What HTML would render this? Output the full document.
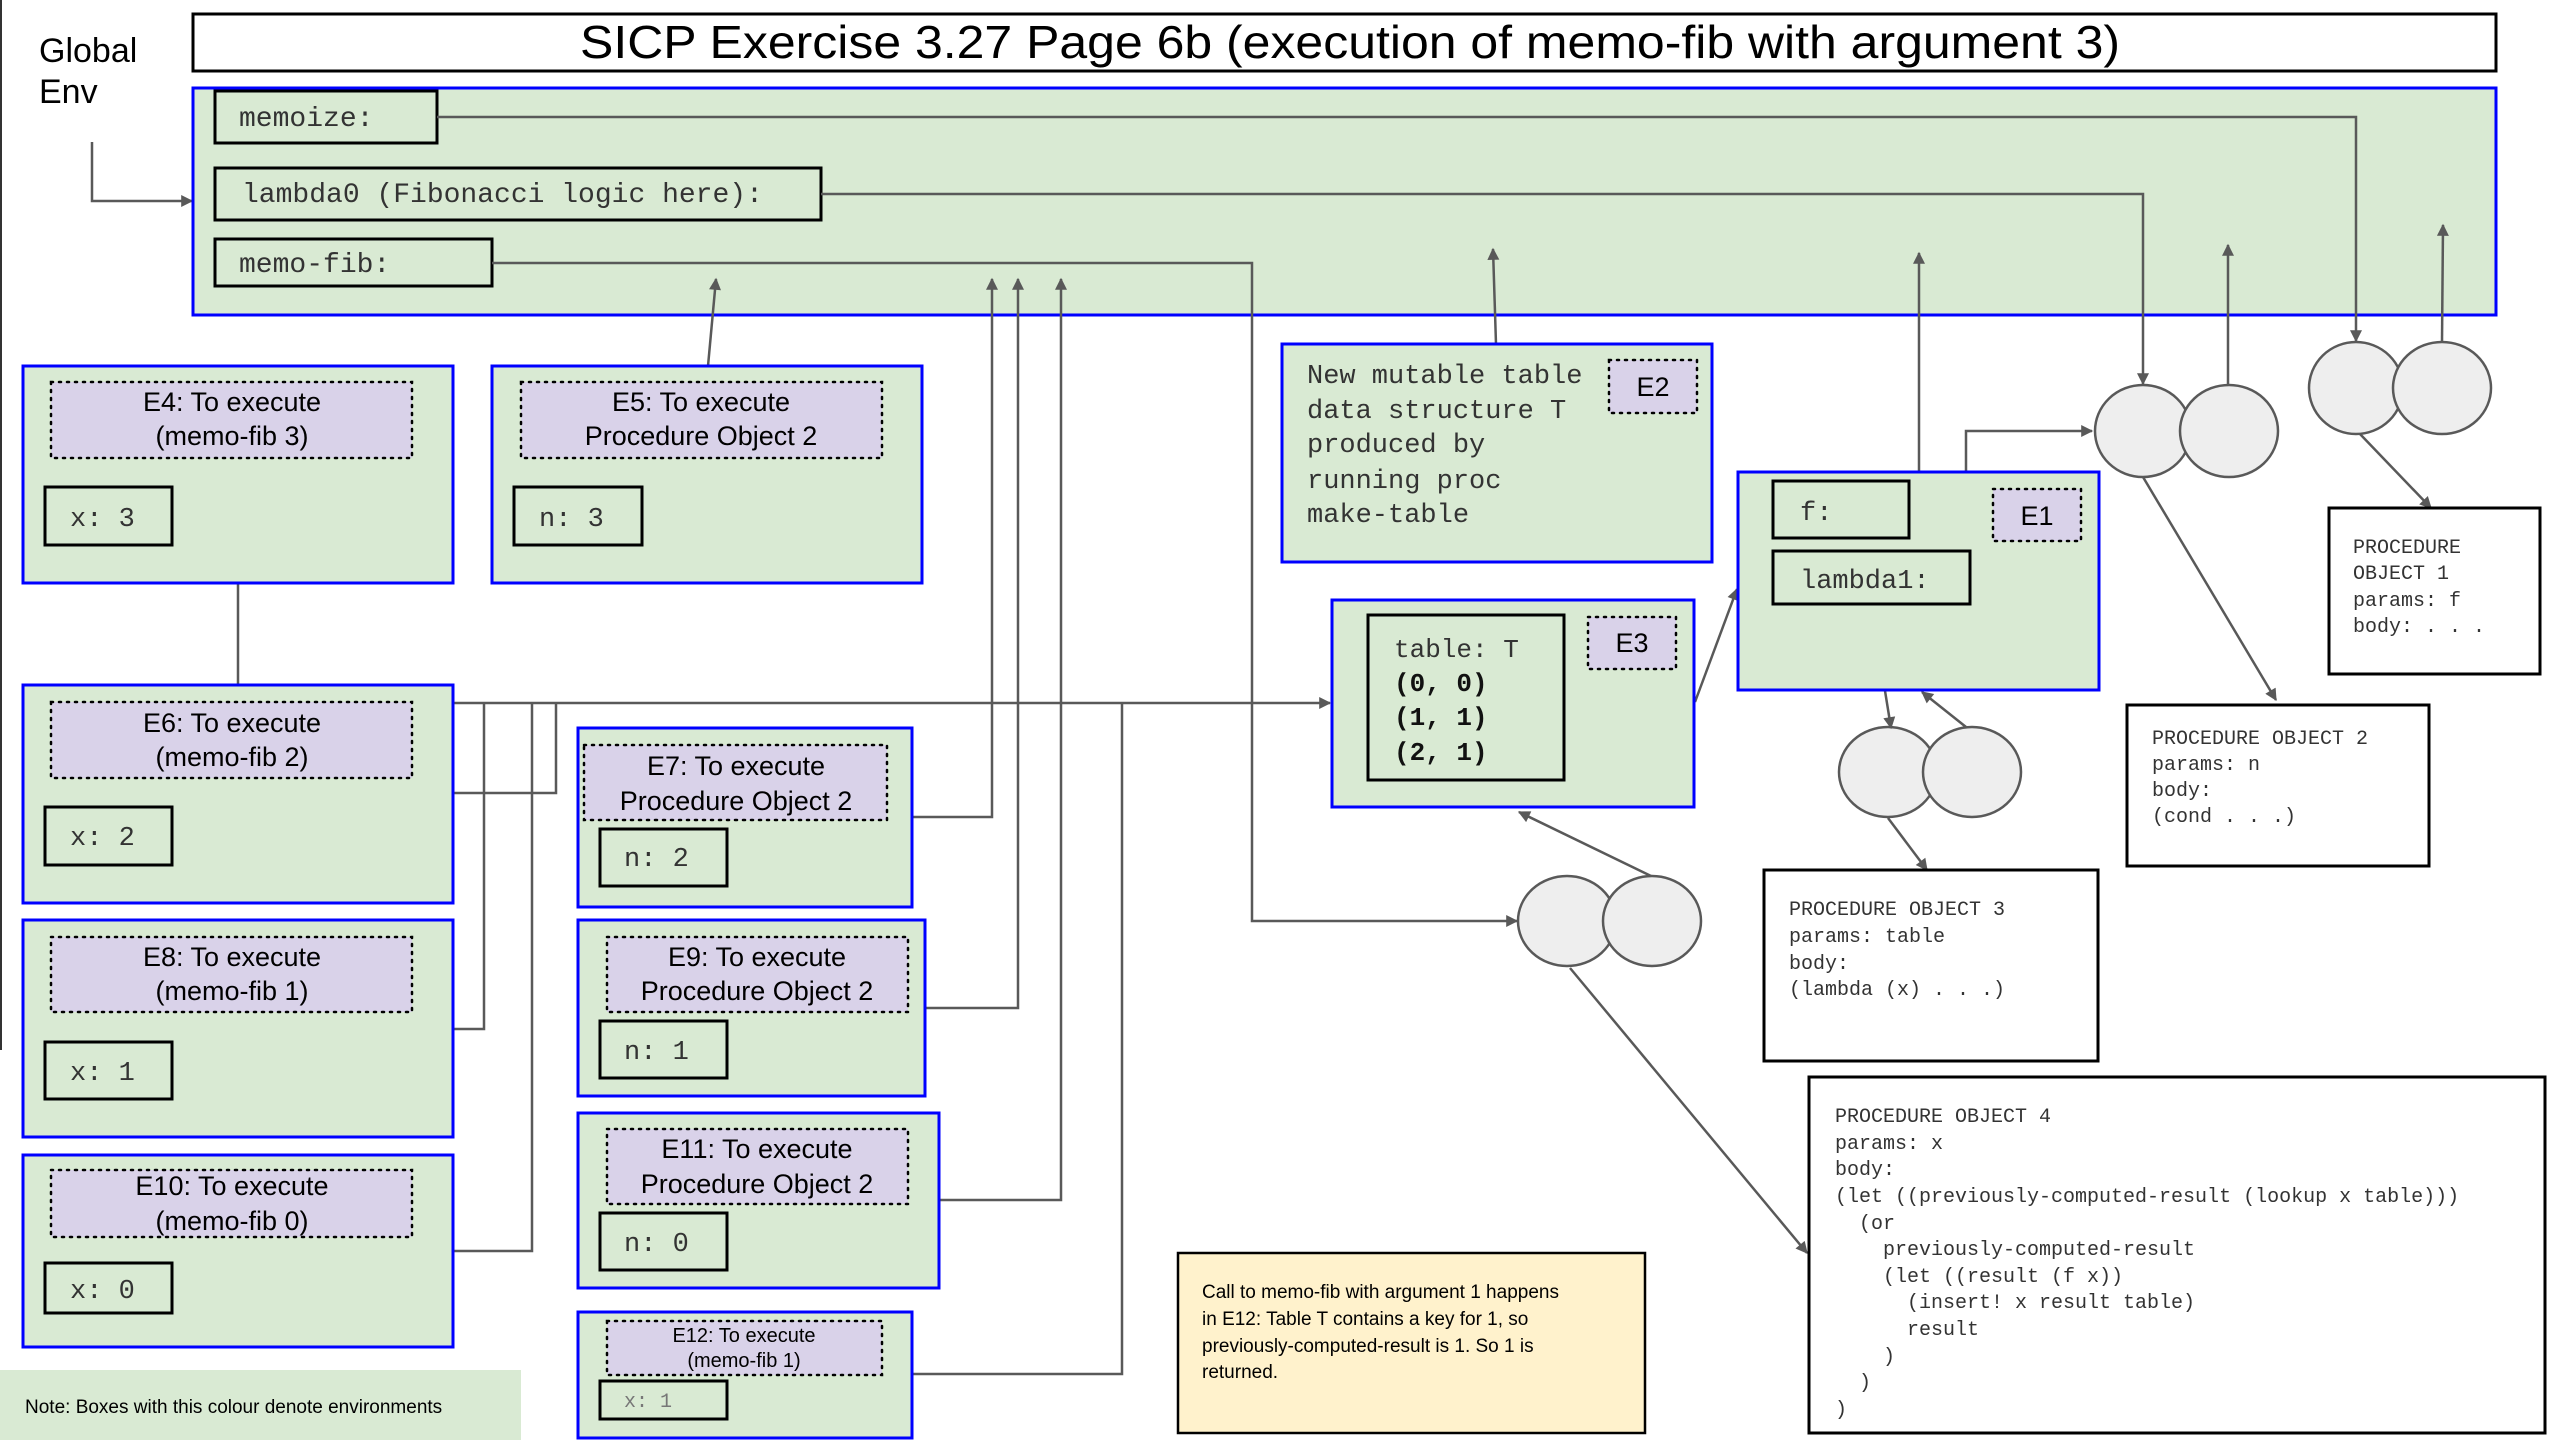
<!DOCTYPE html>
<html><head><meta charset="utf-8"><style>
html,body{margin:0;padding:0;background:#fff;}
svg{display:block;}
.mono{font-family:"Liberation Mono",monospace;fill:#333;}
.sans{font-family:"Liberation Sans",sans-serif;fill:#000;}
.env{fill:#d9ead3;stroke:#0000ff;stroke-width:3;}
.lab{fill:#d9d2e9;stroke:#000;stroke-width:2.5;stroke-dasharray:2 6;stroke-linecap:round;}
.var{fill:none;stroke:#000;stroke-width:3;}
.po{fill:#fff;stroke:#000;stroke-width:3;}
.ln{fill:none;stroke:#595959;stroke-width:2.5;}
.cir{fill:#eeeeee;stroke:#595959;stroke-width:2.5;}
</style></head><body>
<svg width="2561" height="1440" viewBox="0 0 2561 1440" xmlns="http://www.w3.org/2000/svg">
<defs>
<marker id="a" viewBox="0 0 10 10" refX="9" refY="5" markerWidth="14" markerHeight="12" markerUnits="userSpaceOnUse" orient="auto">
<path d="M0,0 L10,5 L0,10 z" fill="#595959"/></marker>
</defs>
<style>.ar{marker-end:url(#a);}</style>
<line x1="1" y1="0" x2="1" y2="1050" stroke="#333" stroke-width="2"/>

<!-- title -->
<rect x="193" y="14" width="2303" height="57" fill="#fff" stroke="#000" stroke-width="3"/>
<text x="580" y="58" class="sans" font-size="46" textLength="1540" lengthAdjust="spacingAndGlyphs">SICP Exercise 3.27 Page 6b (execution of memo-fib with argument 3)</text>
<text x="39" y="62" class="sans" font-size="34">Global</text>
<text x="39" y="103" class="sans" font-size="34">Env</text>
<path class="ln ar" d="M92,142 V201 H192"/>

<!-- global env -->
<rect class="env" x="193" y="88" width="2303" height="227"/>
<rect class="var" x="215" y="91" width="222" height="52"/>
<text class="mono" x="239" y="126" font-size="28">memoize:</text>
<rect class="var" x="215" y="168" width="606" height="52"/>
<text class="mono" x="242" y="202" font-size="28">lambda0 (Fibonacci logic here):</text>
<rect class="var" x="215" y="239" width="277" height="47"/>
<text class="mono" x="239" y="272" font-size="28">memo-fib:</text>

<!-- circles -->
<ellipse class="cir" cx="2356" cy="388" rx="47" ry="46"/>
<ellipse class="cir" cx="2442" cy="388" rx="49" ry="46"/>
<ellipse class="cir" cx="2143" cy="431" rx="48" ry="46"/>
<ellipse class="cir" cx="2229" cy="431" rx="49" ry="46"/>
<ellipse class="cir" cx="1888" cy="772" rx="49" ry="45"/>
<ellipse class="cir" cx="1972" cy="772" rx="49" ry="45"/>
<ellipse class="cir" cx="1567" cy="921" rx="49" ry="45"/>
<ellipse class="cir" cx="1652" cy="921" rx="49" ry="45"/>

<!-- global env connectors -->
<path class="ln ar" d="M437,117 H2356 V341"/>
<path class="ln ar" d="M821,194 H2143 V384"/>
<path class="ln ar" d="M492,263 H1252 V921 H1517"/>
<path class="ln ar" d="M2228,385 V245"/>
<path class="ln ar" d="M2442,342 L2443,225"/>
<path class="ln ar" d="M2360,434 L2431,508"/>
<path class="ln ar" d="M2143,477 L2276,700"/>
<path class="ln ar" d="M1909,510 H1966 V431 H2092"/>
<path class="ln ar" d="M1919,472 V253"/>
<path class="ln ar" d="M1496,344 L1493,249"/>
<path class="ln ar" d="M708,366 L716,279"/>
<path class="ln ar" d="M1871,604 L1891,728"/>
<path class="ln ar" d="M1966,727 L1922,692"/>
<path class="ln ar" d="M1888,818 L1927,870"/>
<path class="ln ar" d="M1695,702 L1737,589"/>
<path class="ln ar" d="M1651,876 L1519,812"/>
<path class="ln ar" d="M1570,968 L1807,1253"/>

<!-- E boxes connectors -->
<path class="ln ar" d="M453,703 H1330"/>
<path class="ln" d="M453,793 H556 V703"/>
<path class="ln" d="M453,1029 H484 V703"/>
<path class="ln" d="M453,1251 H532 V703"/>
<path class="ln" d="M912,1374 H1122 V703"/>
<path class="ln ar" d="M912,817 H992 V279"/>
<path class="ln ar" d="M925,1008 H1018 V279"/>
<path class="ln ar" d="M939,1200 H1061 V279"/>
<path class="ln" d="M238,583 V685"/>

<!-- E4 -->
<rect class="env" x="23" y="366" width="430" height="217"/>
<rect class="lab" x="51" y="382" width="361" height="76"/>
<text class="sans" x="232" y="411" font-size="27" text-anchor="middle">E4: To execute</text>
<text class="sans" x="232" y="445" font-size="27" text-anchor="middle">(memo-fib 3)</text>
<rect class="var" x="45" y="487" width="127" height="58"/>
<text class="mono" x="70" y="526" font-size="27">x: 3</text>
<!-- E5 -->
<rect class="env" x="492" y="366" width="430" height="217"/>
<rect class="lab" x="521" y="382" width="361" height="76"/>
<text class="sans" x="701" y="411" font-size="27" text-anchor="middle">E5: To execute</text>
<text class="sans" x="701" y="445" font-size="27" text-anchor="middle">Procedure Object 2</text>
<rect class="var" x="514" y="487" width="128" height="58"/>
<text class="mono" x="539" y="526" font-size="27">n: 3</text>
<!-- E6 -->
<rect class="env" x="23" y="685" width="430" height="218"/>
<rect class="lab" x="51" y="702" width="361" height="76"/>
<text class="sans" x="232" y="732" font-size="27" text-anchor="middle">E6: To execute</text>
<text class="sans" x="232" y="766" font-size="27" text-anchor="middle">(memo-fib 2)</text>
<rect class="var" x="45" y="807" width="127" height="58"/>
<text class="mono" x="70" y="845" font-size="27">x: 2</text>
<!-- E8 -->
<rect class="env" x="23" y="920" width="430" height="217"/>
<rect class="lab" x="51" y="937" width="361" height="75"/>
<text class="sans" x="232" y="966" font-size="27" text-anchor="middle">E8: To execute</text>
<text class="sans" x="232" y="1000" font-size="27" text-anchor="middle">(memo-fib 1)</text>
<rect class="var" x="45" y="1042" width="127" height="57"/>
<text class="mono" x="70" y="1080" font-size="27">x: 1</text>
<!-- E10 -->
<rect class="env" x="23" y="1155" width="430" height="192"/>
<rect class="lab" x="51" y="1170" width="361" height="67"/>
<text class="sans" x="232" y="1195" font-size="27" text-anchor="middle">E10: To execute</text>
<text class="sans" x="232" y="1230" font-size="27" text-anchor="middle">(memo-fib 0)</text>
<rect class="var" x="45" y="1263" width="127" height="50"/>
<text class="mono" x="70" y="1298" font-size="27">x: 0</text>
<!-- note -->
<rect x="0" y="1370" width="521" height="70" fill="#d9ead3"/>
<text class="sans" x="25" y="1413" font-size="19" fill="#222">Note: Boxes with this colour denote environments</text>

<!-- E7 -->
<rect class="env" x="578" y="728" width="334" height="179"/>
<rect class="lab" x="584" y="745" width="303" height="75"/>
<text class="sans" x="736" y="775" font-size="27" text-anchor="middle">E7: To execute</text>
<text class="sans" x="736" y="810" font-size="27" text-anchor="middle">Procedure Object 2</text>
<rect class="var" x="600" y="829" width="127" height="57"/>
<text class="mono" x="624" y="866" font-size="27">n: 2</text>
<!-- E9 -->
<rect class="env" x="578" y="920" width="347" height="176"/>
<rect class="lab" x="607" y="937" width="301" height="75"/>
<text class="sans" x="757" y="966" font-size="27" text-anchor="middle">E9: To execute</text>
<text class="sans" x="757" y="1000" font-size="27" text-anchor="middle">Procedure Object 2</text>
<rect class="var" x="600" y="1021" width="127" height="57"/>
<text class="mono" x="624" y="1059" font-size="27">n: 1</text>
<!-- E11 -->
<rect class="env" x="578" y="1113" width="361" height="175"/>
<rect class="lab" x="607" y="1129" width="301" height="75"/>
<text class="sans" x="757" y="1158" font-size="27" text-anchor="middle">E11: To execute</text>
<text class="sans" x="757" y="1193" font-size="27" text-anchor="middle">Procedure Object 2</text>
<rect class="var" x="600" y="1213" width="127" height="57"/>
<text class="mono" x="624" y="1251" font-size="27">n: 0</text>
<!-- E12 -->
<rect class="env" x="578" y="1312" width="334" height="126"/>
<rect class="lab" x="607" y="1321" width="275" height="54"/>
<text class="sans" x="744" y="1342" font-size="20" text-anchor="middle">E12: To execute</text>
<text class="sans" x="744" y="1367" font-size="20" text-anchor="middle">(memo-fib 1)</text>
<rect class="var" x="600" y="1381" width="127" height="38"/>
<text class="mono" x="624" y="1407" font-size="20" style="fill:#777">x: 1</text>

<!-- E2 -->
<rect class="env" x="1282" y="344" width="430" height="218"/>
<g class="mono" font-size="27">
<text x="1307" y="383">New mutable table</text>
<text x="1307" y="418">data structure T</text>
<text x="1307" y="452">produced by</text>
<text x="1307" y="488">running proc</text>
<text x="1307" y="522">make-table</text>
</g>
<rect class="lab" x="1609" y="360" width="88" height="53"/>
<text class="sans" x="1653" y="396" font-size="27" text-anchor="middle">E2</text>

<!-- E3 -->
<rect class="env" x="1332" y="600" width="362" height="207"/>
<rect class="var" x="1368" y="615" width="196" height="165"/>
<text class="mono" x="1394" y="657" font-size="26">table: T</text>
<g class="mono" font-size="26" font-weight="bold" style="fill:#111">
<text x="1394" y="691">(0, 0)</text>
<text x="1394" y="725">(1, 1)</text>
<text x="1394" y="760">(2, 1)</text>
</g>
<rect class="lab" x="1588" y="617" width="88" height="52"/>
<text class="sans" x="1632" y="652" font-size="27" text-anchor="middle">E3</text>

<!-- E1 -->
<rect class="env" x="1738" y="472" width="361" height="218"/>
<rect class="var" x="1773" y="481" width="136" height="57"/>
<text class="mono" x="1800" y="520" font-size="27">f:</text>
<rect class="var" x="1773" y="551" width="197" height="53"/>
<text class="mono" x="1800" y="588" font-size="27">lambda1:</text>
<rect class="lab" x="1993" y="489" width="88" height="52"/>
<text class="sans" x="2037" y="525" font-size="27" text-anchor="middle">E1</text>

<!-- Procedure objects -->
<rect class="po" x="2329" y="508" width="211" height="166"/>
<g class="mono" font-size="20">
<text x="2353" y="553">PROCEDURE</text>
<text x="2353" y="579">OBJECT 1</text>
<text x="2353" y="606">params: f</text>
<text x="2353" y="632">body: . . .</text>
</g>
<rect class="po" x="2127" y="705" width="302" height="161"/>
<g class="mono" font-size="20">
<text x="2152" y="744">PROCEDURE OBJECT 2</text>
<text x="2152" y="770">params: n</text>
<text x="2152" y="796">body:</text>
<text x="2152" y="822">(cond . . .)</text>
</g>
<rect class="po" x="1764" y="870" width="334" height="191"/>
<g class="mono" font-size="20">
<text x="1789" y="915">PROCEDURE OBJECT 3</text>
<text x="1789" y="942">params: table</text>
<text x="1789" y="969">body:</text>
<text x="1789" y="995">(lambda (x) . . .)</text>
</g>
<rect class="po" x="1809" y="1077" width="736" height="356"/>
<g class="mono" font-size="20">
<text x="1835" y="1122">PROCEDURE OBJECT 4</text>
<text x="1835" y="1149">params: x</text>
<text x="1835" y="1175">body:</text>
<text x="1835" y="1202">(let ((previously-computed-result (lookup x table)))</text>
<text x="1859" y="1229">(or</text>
<text x="1883" y="1255">previously-computed-result</text>
<text x="1883" y="1282">(let ((result (f x))</text>
<text x="1907" y="1308">(insert! x result table)</text>
<text x="1907" y="1335">result</text>
<text x="1883" y="1362">)</text>
<text x="1859" y="1388">)</text>
<text x="1835" y="1415">)</text>
</g>

<!-- yellow note -->
<rect x="1178" y="1253" width="467" height="180" fill="#fff2cc" stroke="#000" stroke-width="2.5"/>
<g class="sans" font-size="19">
<text x="1202" y="1298">Call to memo-fib with argument 1 happens</text>
<text x="1202" y="1325">in E12: Table T contains a key for 1, so</text>
<text x="1202" y="1352">previously-computed-result is 1. So 1 is</text>
<text x="1202" y="1378">returned.</text>
</g>
</svg>
</body></html>
